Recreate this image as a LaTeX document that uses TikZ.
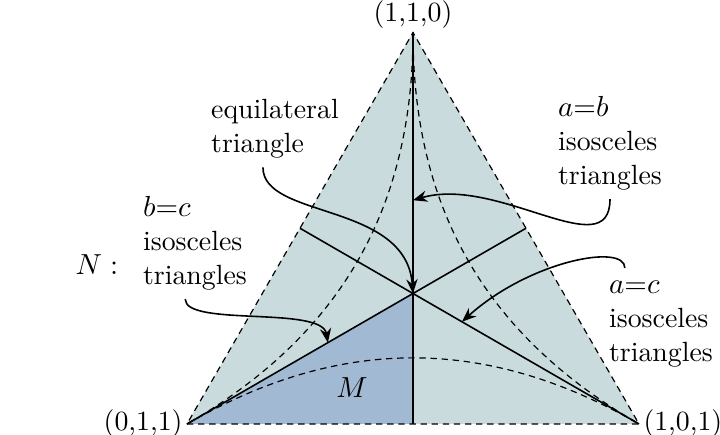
\documentclass[tikz,border=0pt]{standalone}
\usetikzlibrary{arrows.meta}
\definecolor{regionN}{RGB}{201,219,220}
\definecolor{regionM}{RGB}{161,185,211}
\tikzset{
  dashline/.style={dash pattern=on 2.4pt off 1.8pt, line width=0.45pt},
  solidline/.style={line width=0.6pt},
  pointer/.style={line width=0.6pt, -{Stealth[length=1.9mm,width=1.5mm]}},
  caption/.style={align=left},
  vlabel/.style={inner sep=1.5pt}
}
\begin{document}
\begin{tikzpicture}[font=\fontsize{10.5pt}{12.8pt}\selectfont]
\useasboundingbox (-2.482,-0.133) rectangle (7.075,5.628);
\coordinate (L) at (0,0);
\coordinate (R) at (6,0);
\coordinate (T) at (3,5.196);
\coordinate (G) at (3,1.732);
\coordinate (D) at (3,0);
\coordinate (E) at (4.5,2.598);
\coordinate (F) at (1.5,2.598);
\fill[regionN] (L) -- (R) -- (T) -- cycle;
\fill[regionM] (L) -- (D) -- (G) -- cycle;
% curved boundaries
\draw[dashline] (L) to[bend left=30] (R);
\draw[dashline] (T) to[bend left=30] (L);
\draw[dashline] (T) to[bend right=30] (R);
\draw[dashline] (L) -- (R) -- (T) -- cycle;
% medians
\draw[solidline] (T) -- (D);
\draw[solidline] (L) -- (E);
\draw[solidline] (R) -- (F);
\node[vlabel, above] (t110) at (T) {(1,1,0)};
\node[vlabel, left] (t011) at (L) {(0,1,1)};
\node[vlabel, right] (t101) at (R) {(1,0,1)};
\node (N) at (-1.195,2.111) {$N:$};
\node (M) at (2.19,0.478) {$M$};
\node[caption] (eq) at (1.168,3.922) {equilateral\\triangle};
\node[caption] (ab) at (5.615,3.730) {$a{=}b$\\isosceles\\triangles};
\node[caption] (bc) at (0.106,2.403) {$b{=}c$\\isosceles\\triangles};
\node[caption] (ac) at (6.292,1.327) {$a{=}c$\\isosceles\\triangles};
% arrows
\coordinate (Gab) at (3,2.97);
\coordinate (Gbc) at (1.87,1.08);
\coordinate (Gac) at (3.65,1.357);
\draw[pointer] ([xshift=-0.16cm]eq.south) .. controls +(0,-0.69) and +(-0.09,1.22) .. (G);
\draw[pointer] (ab.south) .. controls +(0,-0.90) and +(1.13,0.33) .. (Gab);
\draw[pointer] ([xshift=-0.13cm]bc.south) .. controls +(0,-0.37) and +(-0.08,0.49) .. (Gbc);
\draw[pointer] ([xshift=-0.48cm,yshift=0.05cm]ac.north) .. controls +(0,0.33) and +(0.9,0.81) .. (Gac);
\end{tikzpicture}
\end{document}
